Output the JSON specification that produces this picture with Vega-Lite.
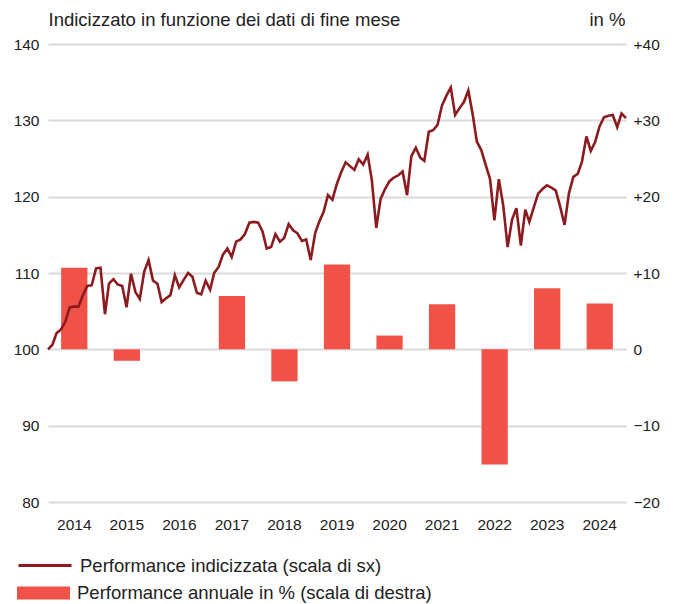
{
  "$schema": "https://vega.github.io/schema/vega-lite/v6.json",
  "width": 578,
  "height": 458,
  "autosize": {"type": "none"},
  "padding": {"left": 48, "top": 44, "right": 52, "bottom": 102},
  "background": "white",
  "config": {
    "view": {"stroke": null},
    "font": "Liberation Sans",
    "axis": {"labelFont": "Liberation Sans", "titleFont": "Liberation Sans", "labelColor": "#222222", "titleColor": "#222222"},
    "legend": {"labelFont": "Liberation Sans", "labelColor": "#222222", "labelLimit": 600}
  },
  "datasets": {
    "annual": [
      {"year": "2014", "perf": 10.7},
      {"year": "2015", "perf": -1.5},
      {"year": "2016", "perf": 0},
      {"year": "2017", "perf": 7.0},
      {"year": "2018", "perf": -4.2},
      {"year": "2019", "perf": 11.1},
      {"year": "2020", "perf": 1.8},
      {"year": "2021", "perf": 5.9},
      {"year": "2022", "perf": -15.1},
      {"year": "2023", "perf": 8.0},
      {"year": "2024", "perf": 6.0}
    ],
    "monthly": [
      {"date": "2014-01-01", "index": 100.0},
      {"date": "2014-02-01", "index": 100.6},
      {"date": "2014-03-01", "index": 102.1},
      {"date": "2014-04-01", "index": 102.6},
      {"date": "2014-05-01", "index": 103.6},
      {"date": "2014-06-01", "index": 105.5},
      {"date": "2014-07-01", "index": 105.6},
      {"date": "2014-08-01", "index": 105.6},
      {"date": "2014-09-01", "index": 107.1},
      {"date": "2014-10-01", "index": 108.3},
      {"date": "2014-11-01", "index": 108.4},
      {"date": "2014-12-01", "index": 110.6},
      {"date": "2015-01-01", "index": 110.7},
      {"date": "2015-02-01", "index": 104.6},
      {"date": "2015-03-01", "index": 108.6},
      {"date": "2015-04-01", "index": 109.2},
      {"date": "2015-05-01", "index": 108.5},
      {"date": "2015-06-01", "index": 108.3},
      {"date": "2015-07-01", "index": 105.5},
      {"date": "2015-08-01", "index": 109.9},
      {"date": "2015-09-01", "index": 107.5},
      {"date": "2015-10-01", "index": 106.6},
      {"date": "2015-11-01", "index": 110.2},
      {"date": "2015-12-01", "index": 111.7},
      {"date": "2016-01-01", "index": 109.0},
      {"date": "2016-02-01", "index": 108.6},
      {"date": "2016-03-01", "index": 106.2},
      {"date": "2016-04-01", "index": 106.7},
      {"date": "2016-05-01", "index": 107.1},
      {"date": "2016-06-01", "index": 109.7},
      {"date": "2016-07-01", "index": 108.1},
      {"date": "2016-08-01", "index": 109.1},
      {"date": "2016-09-01", "index": 110.0},
      {"date": "2016-10-01", "index": 109.5},
      {"date": "2016-11-01", "index": 107.4},
      {"date": "2016-12-01", "index": 107.2},
      {"date": "2017-01-01", "index": 109.0},
      {"date": "2017-02-01", "index": 107.8},
      {"date": "2017-03-01", "index": 110.0},
      {"date": "2017-04-01", "index": 110.8},
      {"date": "2017-05-01", "index": 112.4},
      {"date": "2017-06-01", "index": 113.2},
      {"date": "2017-07-01", "index": 112.1},
      {"date": "2017-08-01", "index": 114.1},
      {"date": "2017-09-01", "index": 114.4},
      {"date": "2017-10-01", "index": 115.1},
      {"date": "2017-11-01", "index": 116.6},
      {"date": "2017-12-01", "index": 116.7},
      {"date": "2018-01-01", "index": 116.6},
      {"date": "2018-02-01", "index": 115.4},
      {"date": "2018-03-01", "index": 113.2},
      {"date": "2018-04-01", "index": 113.4},
      {"date": "2018-05-01", "index": 115.1},
      {"date": "2018-06-01", "index": 114.1},
      {"date": "2018-07-01", "index": 114.6},
      {"date": "2018-08-01", "index": 116.4},
      {"date": "2018-09-01", "index": 115.6},
      {"date": "2018-10-01", "index": 115.2},
      {"date": "2018-11-01", "index": 114.2},
      {"date": "2018-12-01", "index": 114.4},
      {"date": "2019-01-01", "index": 111.7},
      {"date": "2019-02-01", "index": 115.2},
      {"date": "2019-03-01", "index": 116.7},
      {"date": "2019-04-01", "index": 118.0},
      {"date": "2019-05-01", "index": 120.2},
      {"date": "2019-06-01", "index": 119.6},
      {"date": "2019-07-01", "index": 121.6},
      {"date": "2019-08-01", "index": 123.2},
      {"date": "2019-09-01", "index": 124.5},
      {"date": "2019-10-01", "index": 124.0},
      {"date": "2019-11-01", "index": 123.5},
      {"date": "2019-12-01", "index": 124.9},
      {"date": "2020-01-01", "index": 124.2},
      {"date": "2020-02-01", "index": 125.5},
      {"date": "2020-03-01", "index": 122.2},
      {"date": "2020-04-01", "index": 115.9},
      {"date": "2020-05-01", "index": 119.7},
      {"date": "2020-06-01", "index": 121.0},
      {"date": "2020-07-01", "index": 122.0},
      {"date": "2020-08-01", "index": 122.5},
      {"date": "2020-09-01", "index": 122.8},
      {"date": "2020-10-01", "index": 123.3},
      {"date": "2020-11-01", "index": 120.2},
      {"date": "2020-12-01", "index": 125.3},
      {"date": "2021-01-01", "index": 126.4},
      {"date": "2021-02-01", "index": 125.1},
      {"date": "2021-03-01", "index": 124.7},
      {"date": "2021-04-01", "index": 128.5},
      {"date": "2021-05-01", "index": 128.7},
      {"date": "2021-06-01", "index": 129.4},
      {"date": "2021-07-01", "index": 131.9},
      {"date": "2021-08-01", "index": 133.2},
      {"date": "2021-09-01", "index": 134.3},
      {"date": "2021-10-01", "index": 130.7},
      {"date": "2021-11-01", "index": 131.6},
      {"date": "2021-12-01", "index": 132.4},
      {"date": "2022-01-01", "index": 133.9},
      {"date": "2022-02-01", "index": 130.7},
      {"date": "2022-03-01", "index": 127.2},
      {"date": "2022-04-01", "index": 126.1},
      {"date": "2022-05-01", "index": 124.2},
      {"date": "2022-06-01", "index": 122.3},
      {"date": "2022-07-01", "index": 116.9},
      {"date": "2022-08-01", "index": 122.3},
      {"date": "2022-09-01", "index": 118.8},
      {"date": "2022-10-01", "index": 113.4},
      {"date": "2022-11-01", "index": 117.0},
      {"date": "2022-12-01", "index": 118.5},
      {"date": "2023-01-01", "index": 113.6},
      {"date": "2023-02-01", "index": 118.3},
      {"date": "2023-03-01", "index": 116.7},
      {"date": "2023-04-01", "index": 118.6},
      {"date": "2023-05-01", "index": 120.4},
      {"date": "2023-06-01", "index": 121.0},
      {"date": "2023-07-01", "index": 121.5},
      {"date": "2023-08-01", "index": 121.2},
      {"date": "2023-09-01", "index": 120.8},
      {"date": "2023-10-01", "index": 118.7},
      {"date": "2023-11-01", "index": 116.3},
      {"date": "2023-12-01", "index": 120.4},
      {"date": "2024-01-01", "index": 122.6},
      {"date": "2024-02-01", "index": 123.0},
      {"date": "2024-03-01", "index": 124.6},
      {"date": "2024-04-01", "index": 127.9},
      {"date": "2024-05-01", "index": 126.0},
      {"date": "2024-06-01", "index": 127.2},
      {"date": "2024-07-01", "index": 129.2},
      {"date": "2024-08-01", "index": 130.4},
      {"date": "2024-09-01", "index": 130.6},
      {"date": "2024-10-01", "index": 130.7},
      {"date": "2024-11-01", "index": 129.1},
      {"date": "2024-12-01", "index": 130.9},
      {"date": "2025-01-01", "index": 130.3}
    ]
  },
  "layer": [
    {
      "data": {"name": "annual"},
      "mark": {"type": "bar"},
      "encoding": {
        "x": {
          "field": "year", "type": "ordinal",
          "scale": {"paddingInner": 0.5, "paddingOuter": 0.25},
          "axis": {"orient": "bottom", "title": null, "labelAngle": 0, "ticks": false, "domain": false, "labelFontSize": 15.5, "labelPadding": 15, "grid": false}
        },
        "y": {
          "field": "perf", "type": "quantitative",
          "scale": {"domain": [-20, 40], "nice": false, "zero": true},
          "axis": {
            "orient": "right", "values": [-20, -10, 0, 10, 20, 30, 40],
            "labelExpr": "datum.value > 0 ? '+' + datum.value : (datum.value < 0 ? '\u2212' + abs(datum.value) : '0')",
            "grid": false, "ticks": false, "domain": false, "labelFontSize": 15.5, "labelPadding": 7,
            "title": "in %", "titleAngle": 0, "titleAlign": "right", "titleBaseline": "alphabetic",
            "titleX": -1, "titleY": -19, "titleFontSize": 18.5, "titleFontWeight": "normal"
          }
        },
        "fill": {
          "datum": "Performance annuale in % (scala di destra)",
          "scale": {"range": ["#f05248"]},
          "legend": {
            "orient": "none", "legendX": -31, "legendY": 522.5, "title": null, "padding": 0,
            "symbolType": "M-1,-0.245H1V0.245H-1Z", "symbolSize": 2809, "symbolStrokeWidth": 0,
            "labelFontSize": 18.5, "labelOffset": 7, "labelLimit": 600
          }
        }
      }
    },
    {
      "data": {"name": "monthly"},
      "mark": {"type": "line", "strokeWidth": 2.6},
      "encoding": {
        "x": {
          "field": "date", "type": "temporal",
          "scale": {"type": "utc", "domain": [{"year": 2014, "month": 1, "date": 1, "utc": true}, {"year": 2025, "month": 1, "date": 1, "utc": true}]},
          "axis": null
        },
        "y": {
          "field": "index", "type": "quantitative",
          "scale": {"domain": [80, 140], "nice": false, "zero": false},
          "axis": {
            "orient": "left", "values": [80, 90, 100, 110, 120, 130, 140],
            "grid": true, "gridColor": "#dadada", "gridWidth": 2,
            "ticks": false, "domain": false, "labelFontSize": 15.5, "labelPadding": 9,
            "title": "Indicizzato in funzione dei dati di fine mese", "titleAngle": 0, "titleAlign": "left", "titleBaseline": "alphabetic",
            "titleX": 0, "titleY": -19, "titleFontSize": 18.5, "titleFontWeight": "normal"
          }
        },
        "stroke": {
          "datum": "Performance indicizzata (scala di sx)",
          "scale": {"range": ["#8c1b1f"]},
          "legend": {
            "orient": "none", "legendX": -31, "legendY": 493.5, "title": null, "padding": 0,
            "symbolType": "stroke", "symbolSize": 2809, "symbolStrokeWidth": 3,
            "labelFontSize": 18.5, "labelOffset": 7, "labelLimit": 600
          }
        }
      }
    }
  ],
  "resolve": {"scale": {"x": "independent", "y": "independent"}}
}
